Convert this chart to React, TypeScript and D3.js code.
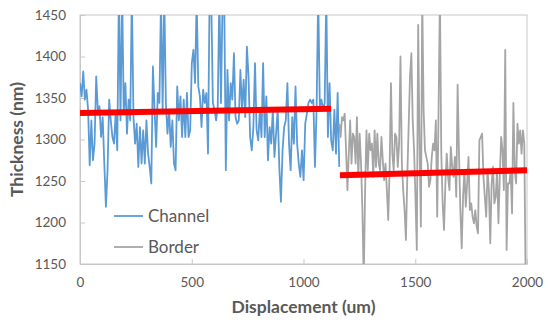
import React, { useEffect, useRef } from 'react';
import * as d3 from 'd3';

// thickness readings (nm), evenly spaced along each displacement range
const channelThickness = [
  1368, 1352, 1382, 1348, 1360, 1336, 1269, 1323, 1275, 1295, 1376, 1336, 1340, 1303, 1327, 1271, 1219, 1263,
  1348, 1323, 1303, 1295, 1331, 1287, 1480, 1323, 1480, 1331, 1368, 1307, 1348, 1323, 1475, 1327, 1295, 1319,
  1267, 1315, 1271, 1311, 1271, 1323, 1283, 1267, 1247, 1388, 1336, 1291, 1356, 1344, 1470, 1336, 1475, 1344,
  1307, 1336, 1291, 1323, 1271, 1263, 1364, 1323, 1352, 1303, 1348, 1303, 1356, 1303, 1311, 1392, 1408, 1368,
  1470, 1364, 1352, 1315, 1360, 1344, 1356, 1283, 1480, 1470, 1344, 1336, 1323, 1340, 1475, 1344, 1470, 1470, 1263,
  1384, 1323, 1368, 1348, 1404, 1327, 1319, 1323, 1384, 1336, 1372, 1327, 1412, 1376, 1303, 1287, 1315, 1392,
  1311, 1299, 1336, 1303, 1392, 1303, 1352, 1275, 1315, 1295, 1336, 1279, 1307, 1336, 1267, 1225, 1287, 1315,
  1323, 1368, 1295, 1263, 1327, 1295, 1364, 1295, 1271, 1255, 1287, 1251, 1319, 1331, 1344, 1348,
  1344, 1348, 1267, 1336, 1475, 1340, 1348, 1336, 1344, 1475, 1303, 1368, 1299, 1287, 1336, 1283, 1356, 1267
];

const borderThickness = [
  1319, 1303, 1327, 1323, 1331, 1287, 1239, 1283, 1323, 1271, 1307, 1303, 1271, 1327, 1255, 1307, 1271, 1215,
  1130, 1239, 1311, 1263, 1307, 1287, 1295, 1255, 1311, 1267, 1307, 1271, 1263, 1303, 1275, 1251, 1271, 1239,
  1203, 1263, 1368, 1283, 1263, 1307, 1303, 1267, 1295, 1400, 1271, 1239, 1215, 1179, 1255, 1315, 1376, 1404, 1323,
  1287, 1231, 1167, 1438, 1295, 1195, 1470, 1336, 1287, 1279, 1271, 1243, 1251, 1279, 1295, 1287, 1323, 1207,
  1336, 1475, 1283, 1223, 1191, 1247, 1283, 1255, 1239, 1291, 1267, 1255, 1279, 1231, 1366, 1283, 1215, 1169,
  1231, 1263, 1219, 1247, 1279, 1215, 1223, 1207, 1199, 1215, 1195, 1187, 1299, 1303, 1307, 1255, 1231, 1207,
  1263, 1239, 1175, 1247, 1267, 1223, 1231, 1263, 1199, 1255, 1303, 1287, 1239, 1408, 1167, 1247, 1247, 1263,
  1211, 1344, 1263, 1247, 1319, 1295, 1311, 1283, 1311, 1295, 1130, 1120
];

const channelRange = [0, 1160];
const borderRange = [1160, 2000];

// linear trend end points [displacement, thickness]
const channelTrend = [[0, 1332], [1123, 1337]];
const borderTrend = [[1163, 1257], [2000, 1263]];

const xTicks = [0, 500, 1000, 1500, 2000];
const yTicks = [1150, 1200, 1250, 1300, 1350, 1400, 1450];
const seriesNames = ['Channel', 'Border'];
const seriesColors = ['#5b9bd5', '#a5a5a5'];

function App() {
  const chartRef = useRef(null);

  useEffect(() => {
    const margin = { top: 15, right: 23, bottom: 65, left: 80 };
    const width = 550 - margin.left - margin.right;
    const height = 329 - margin.top - margin.bottom;
    const font = 'Lato, "Open Sans", sans-serif';
    const textColor = '#595959';

    const root = d3.select(chartRef.current);
    root.selectAll('*').remove();

    const svg = root.append('g')
      .attr('transform', 'translate(' + margin.left + ',' + margin.top + ')');

    const x = d3.scaleLinear().domain([0, 2000]).range([0, width]);
    const y = d3.scaleLinear().domain([1150, 1450]).range([height, 0]);

    svg.append('clipPath').attr('id', 'plot-clip')
      .append('rect').attr('width', width).attr('height', height);

    // plot frame
    svg.append('rect')
      .attr('width', width).attr('height', height)
      .attr('fill', 'none').attr('stroke', '#c8c8c8').attr('stroke-width', 1);

    // ticks pointing inward
    const xAxis = svg.append('g').attr('transform', 'translate(0,' + height + ')')
      .call(d3.axisBottom(x).tickValues(xTicks).tickFormat(d3.format('d'))
        .tickSizeInner(-5).tickSizeOuter(0).tickPadding(13));
    const yAxis = svg.append('g')
      .call(d3.axisLeft(y).tickValues(yTicks).tickFormat(d3.format('d'))
        .tickSizeInner(-5).tickSizeOuter(0).tickPadding(14));
    [xAxis, yAxis].forEach((axis) => {
      axis.select('.domain').attr('stroke', '#c8c8c8');
      axis.selectAll('.tick line').attr('stroke', '#c8c8c8');
      axis.selectAll('.tick text')
        .attr('fill', textColor)
        .style('font-family', font)
        .style('font-size', '13.5px');
    });

    const line = d3.line()
      .x((d) => x(d[0]))
      .y((d) => y(d[1]));

    const toPoints = (values, range) => values.map((v, i) =>
      [range[0] + i * (range[1] - range[0]) / (values.length - 1), v]);

    const plot = svg.append('g').attr('clip-path', 'url(#plot-clip)');

    plot.append('path')
      .datum(toPoints(channelThickness, channelRange))
      .attr('fill', 'none').attr('stroke', seriesColors[0]).attr('stroke-width', 1.8)
      .attr('stroke-linejoin', 'round')
      .attr('d', line);

    plot.append('path')
      .datum(toPoints(borderThickness, borderRange))
      .attr('fill', 'none').attr('stroke', seriesColors[1]).attr('stroke-width', 1.8)
      .attr('stroke-linejoin', 'round')
      .attr('d', line);

    [channelTrend, borderTrend].forEach((trend) => {
      plot.append('path')
        .datum(trend)
        .attr('fill', 'none').attr('stroke', '#ff0000').attr('stroke-width', 6)
        .attr('d', line);
    });

    // legend
    const legend = svg.append('g').attr('transform', 'translate(34,201)');
    seriesNames.forEach((name, i) => {
      const row = legend.append('g').attr('transform', 'translate(0,' + i * 31 + ')');
      row.append('line')
        .attr('x1', 0).attr('x2', 29)
        .attr('stroke', seriesColors[i]).attr('stroke-width', 1.8);
      row.append('text')
        .attr('x', 34).attr('y', 6)
        .attr('fill', textColor)
        .style('font-family', font)
        .style('font-size', '17px')
        .text(name);
    });

    // axis titles
    svg.append('text')
      .attr('x', width / 2).attr('y', height + 49)
      .attr('text-anchor', 'middle')
      .attr('fill', textColor)
      .style('font-family', font).style('font-size', '17.5px').style('font-weight', 'bold')
      .text('Displacement (um)');

    svg.append('text')
      .attr('transform', 'translate(' + (-57) + ',' + (height / 2) + ') rotate(-90)')
      .attr('text-anchor', 'middle')
      .attr('fill', textColor)
      .style('font-family', font).style('font-size', '17.5px').style('font-weight', 'bold')
      .text('Thickness (nm)');
  }, []);

  return (
    <div style={{ position: 'absolute', top: 0, left: 0 }}>
      <svg ref={chartRef} width={550} height={329} style={{ display: 'block', background: 'white' }}></svg>
    </div>
  );
}

export default App;
